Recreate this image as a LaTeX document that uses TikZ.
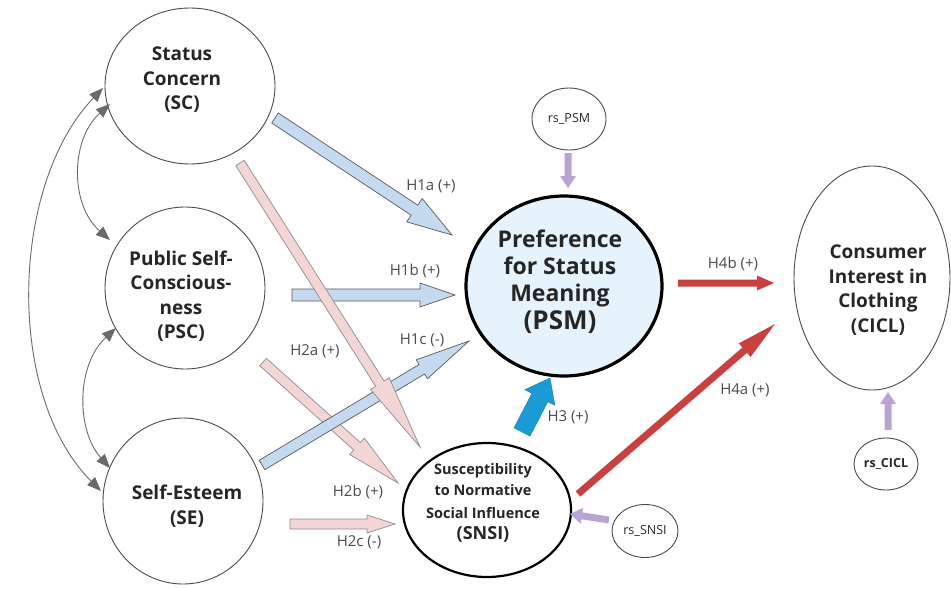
\documentclass[tikz,border=0pt]{standalone}
\usepackage{fontspec}
\setmainfont{Open Sans}
\usetikzlibrary{calc,arrows.meta,shapes.geometric}
\definecolor{ringgray}{HTML}{4A4A4A}
\definecolor{psmfill}{HTML}{E6F3FC}
\definecolor{bluefill}{HTML}{C5DAF0}
\definecolor{pinkfill}{HTML}{F3D5D5}
\definecolor{hthree}{HTML}{1C9AD6}
\definecolor{redarr}{HTML}{C8403F}
\definecolor{purparr}{HTML}{B9A3D1}
\definecolor{labgray}{HTML}{4A4A4A}
\definecolor{curvegray}{HTML}{6A6A6A}
\newcommand\FatArrow[6]{%
  \coordinate (fa-q) at ($(#3)!#6!(#2)$);
  \path[#1] ($(#2)!#4!90:(#3)$) -- ($(fa-q)!#4!90:(#3)$) -- ($(fa-q)!#5!90:(#3)$) -- (#3)
    -- ($(fa-q)!#5!-90:(#3)$) -- ($(fa-q)!#4!-90:(#3)$) -- ($(#2)!#4!-90:(#3)$) -- cycle;
}
\begin{document}
\begin{tikzpicture}[x=1pt,y=-1pt,
  ring/.style={ellipse,draw=ringgray,line width=0.9pt,inner sep=0pt},
  bigtxt/.style={align=center,font=\fontsize{19}{24.5}\selectfont\bfseries,text=black!85},
  hlab/.style={font=\fontsize{15}{18}\selectfont,text=labgray},
  bluearr/.style={draw=black!65,fill=bluefill,line width=0.7pt},
  pinkarr/.style={draw=black!45,fill=pinkfill,line width=0.7pt},
  solidblue/.style={fill=hthree,draw=hthree!80!black,line width=0.4pt},
  redfat/.style={fill=redarr},
  purpfat/.style={fill=purparr},
  curve/.style={draw=curvegray,line width=0.9pt,{Triangle[length=14pt,width=11pt]}-{Triangle[length=14pt,width=11pt]}}
]
\useasboundingbox (0,0) rectangle (951,589);
% ellipses
\node[ring,minimum width=170,minimum height=156] (SC) at (190,86) {};
\node[ring,minimum width=160,minimum height=162] (PSC) at (185,288) {};
\node[ring,minimum width=160,minimum height=166] (SE) at (183,501) {};
\node[ring,draw=black,line width=3.2pt,fill=psmfill,minimum width=196,minimum height=180] (PSM) at (564,286) {};
\node[ring,draw=black,line width=2.2pt,minimum width=168,minimum height=134] (SNSI) at (487,510) {};
\node[ring,minimum width=156,minimum height=224] (CICL) at (872,278) {};
\node[ring,minimum width=74,minimum height=62] (rsPSM) at (569,119) {};
\node[ring,minimum width=64,minimum height=52] (rsCICL) at (886,464) {};
\node[ring,minimum width=66,minimum height=53] (rsSNSI) at (645,531) {};
% texts
\node[bigtxt] (SCt) at (182,80) {Status\\Concern\\(SC)};
\node[bigtxt] (PSCt) at (181,296) {Public Self-\\Conscious-\\ness\\(PSC)};
\node[bigtxt] (SEt) at (187,506) {Self-Esteem\\(SE)};
\node[bigtxt] (CICLt) at (878,290) {Consumer\\Interest in\\Clothing\\(CICL)};
\node[align=center,text=black!85,font=\fontsize{23}{27}\selectfont\bfseries] (PSMt) at (560,282)
  {Preference\\for Status\\Meaning\\[1pt]{\fontsize{26}{30}\selectfont(PSM)}};
\node[align=center,text=black!85,font=\fontsize{14.5}{21}\selectfont\bfseries] (SNSIt) at (483,503)
  {Susceptibility\\to Normative\\[2pt]Social Influence\\{\fontsize{18}{22}\selectfont(SNSI)}};
\node[font=\fontsize{12.5}{15}\selectfont,text=black!85] (rsPSMt) at (rsPSM) {rs\_PSM};
\node[font=\fontsize{12.5}{15}\selectfont\bfseries,text=black!85] (rsCICLt) at (rsCICL) {rs\_CICL};
\node[font=\fontsize{12.5}{15}\selectfont,text=black!85] (rsSNSIt) at (rsSNSI) {rs\_SNSI};
% arrow end points
\coordinate (a1s) at (275,118);  \coordinate (a1e) at (452,235);
\coordinate (b1s) at (292,295);  \coordinate (b1e) at (455,295);
\coordinate (c1s) at (262,465);  \coordinate (c1e) at (469,341);
\coordinate (p1s) at (240,163);  \coordinate (p1e) at (420,447);
\coordinate (p2s) at (263,362);  \coordinate (p2e) at (398,483);
\coordinate (p3s) at (290,524);  \coordinate (p3e) at (395,524);
\coordinate (h3s) at (522,432);  \coordinate (h3e) at (550,378);
\coordinate (r1s) at (678,283);  \coordinate (r1e) at (774,283);
\coordinate (r2s) at (578,494);  \coordinate (r2e) at (775,324);
\coordinate (v1s) at (568,153);  \coordinate (v1e) at (568,188);
\coordinate (v2s) at (888,430);  \coordinate (v2e) at (888,392);
\coordinate (v3s) at (609,520);  \coordinate (v3e) at (570,514);
% fat arrows
\FatArrow{bluearr}{b1s}{b1e}{6pt}{12pt}{35pt}
\FatArrow{bluearr}{a1s}{a1e}{6pt}{14pt}{45pt}
\FatArrow{pinkarr}{p2s}{p2e}{5pt}{11pt}{55pt}
\FatArrow{bluearr}{c1s}{c1e}{5.5pt}{11pt}{55pt}
\FatArrow{pinkarr}{p1s}{p1e}{5pt}{11pt}{75pt}
\FatArrow{pinkarr}{p3s}{p3e}{5pt}{9pt}{28pt}
\FatArrow{solidblue}{h3s}{h3e}{9pt}{17pt}{22pt}
\FatArrow{redfat}{r1s}{r1e}{3.5pt}{7.5pt}{17pt}
\FatArrow{redfat}{r2s}{r2e}{3.5pt}{9pt}{40pt}
\FatArrow{purpfat}{v1s}{v1e}{3.5pt}{8pt}{12pt}
\FatArrow{purpfat}{v2s}{v2e}{3.5pt}{8pt}{12pt}
\FatArrow{purpfat}{v3s}{v3e}{3.5pt}{8pt}{12pt}
% curved double arrows
\coordinate (o1) at (103,88);  \coordinate (o2) at (101,491);
\coordinate (i1) at (110,104); \coordinate (i2) at (110,240);
\coordinate (j1) at (116,328); \coordinate (j2) at (110,468);
\draw[curve] (o1) .. controls (10,185) and (5,395) .. (o2);
\draw[curve] (i1) .. controls (70,140) and (70,205) .. (i2);
\draw[curve] (j1) .. controls (76,365) and (76,430) .. (j2);
% labels
\node[hlab] (l1a) at (431,186) {H1a (+)};
\node[hlab] (l1b) at (415,271) {H1b (+)};
\node[hlab] (l1c) at (422,340) {H1c (-)};
\node[hlab] (l2a) at (315,351) {H2a (+)};
\node[hlab] (l2b) at (358,492) {H2b (+)};
\node[hlab] (l2c) at (359,542) {H2c (-)};
\node[hlab] (l3) at (568,417) {H3 (+)};
\node[hlab] (l4a) at (745,390) {H4a (+)};
\node[hlab] (l4b) at (733,264) {H4b (+)};
\end{tikzpicture}
\end{document}
